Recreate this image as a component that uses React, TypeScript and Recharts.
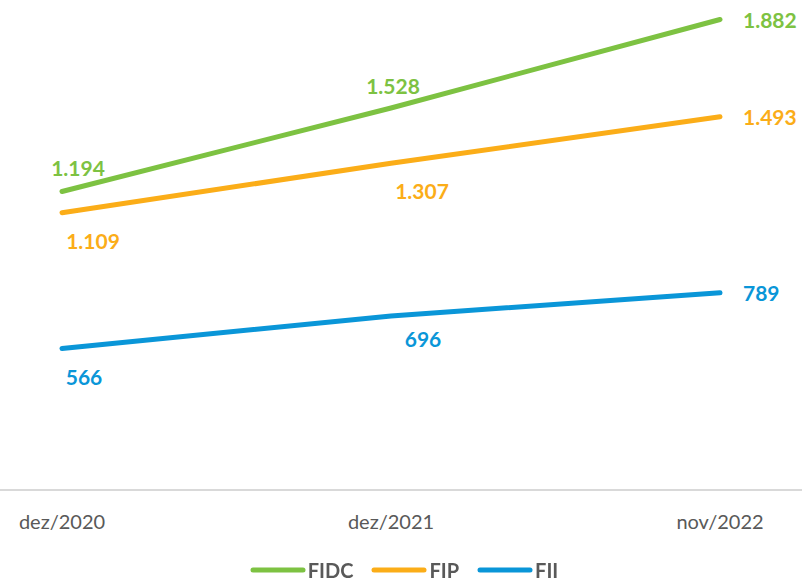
import React from 'react'
import { LineChart, Line, XAxis, YAxis, Legend, LabelList } from 'recharts'

const periods = ['dez/2020', 'dez/2021', 'nov/2022']
const fidc = [1194, 1528, 1882]
const fip = [1109, 1307, 1493]
const fii = [566, 696, 789]

const data = periods.map((p, i) => ({ period: p, FIDC: fidc[i], FIP: fip[i], FII: fii[i] }))

const FONT = 'Lato, "Open Sans", sans-serif'

const series = [
    { key: 'FIDC', color: '#7DC242', offsets: [[16, -24], [2, -23]] },
    { key: 'FIP', color: '#FBAD18', offsets: [[31, 28], [31, 27]] },
    { key: 'FII', color: '#0A96D8', offsets: [[22, 28], [32, 22]] },
]

const fmt = (n: number) => String(n).replace(/\B(?=(\d{3})+(?!\d))/g, '.')

function makeLabel(color: string, offsets: number[][]) {
    return (props: any) => {
        const { x, y, value, index } = props
        const last = index === periods.length - 1
        const [dx, dy] = last ? [23, 0] : offsets[index]
        return (
            <text
                x={x + dx}
                y={y + dy}
                fill={color}
                fontSize={21}
                fontWeight={700}
                fontFamily={FONT}
                textAnchor={last ? 'start' : 'middle'}
                dominantBaseline="central"
            >
                {fmt(value)}
            </text>
        )
    }
}

function LegendContent() {
    return (
        <div style={{ display: 'flex', justifyContent: 'center', alignItems: 'center', paddingLeft: 24, paddingTop: 21, fontFamily: FONT }}>
            {series.map((s) => (
                <div key={s.key} style={{ display: 'flex', alignItems: 'center', marginRight: 18, height: 18 }}>
                    <svg width={56} height={8}>
                        <line x1={3} y1={4} x2={53} y2={4} stroke={s.color} strokeWidth={5} strokeLinecap="round" />
                    </svg>
                    <span style={{ color: '#595959', fontWeight: 700, fontSize: 20, lineHeight: '18px', marginLeft: 2 }}>{s.key}</span>
                </div>
            ))}
        </div>
    )
}

export default function App() {
    return (
        <div style={{ position: 'fixed', left: 0, top: 0, width: 802, height: 581, background: '#fff' }}>
            <LineChart width={802} height={581} data={data} margin={{ top: 0, right: 0, left: 0, bottom: 0 }}>
                <XAxis
                    dataKey="period"
                    height={50}
                    padding={{ left: 62, right: 82 }}
                    axisLine={{ stroke: '#D9D9D9', strokeWidth: 2 }}
                    tickLine={false}
                    tick={{ fill: '#595959', fontSize: 20, fontFamily: FONT }}
                    tickMargin={19}
                />
                <YAxis hide domain={[0, 1960]} />
                <Legend verticalAlign="bottom" height={41} content={<LegendContent />} />
                {series.map((s) => (
                    <Line
                        key={s.key}
                        dataKey={s.key}
                        stroke={s.color}
                        strokeWidth={5}
                        strokeLinecap="round"
                        dot={false}
                        activeDot={false}
                        isAnimationActive={false}
                    >
                        <LabelList dataKey={s.key} content={makeLabel(s.color, s.offsets)} />
                    </Line>
                ))}
            </LineChart>
        </div>
    )
}
